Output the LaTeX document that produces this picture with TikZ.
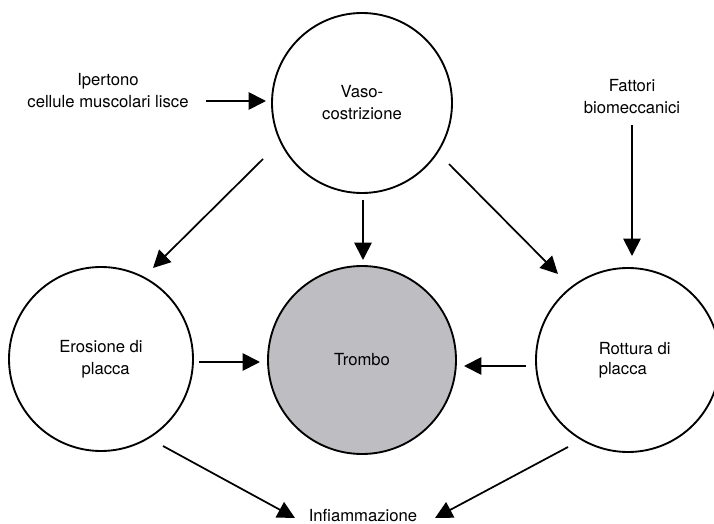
\documentclass[tikz,border=0pt]{standalone}
\usepackage{fontspec}
\setmainfont{TeX Gyre Heros}
\usetikzlibrary{arrows.meta}

\begin{document}
\begin{tikzpicture}[line cap=butt,line join=miter,x=0.75pt,y=-0.75pt,
  bubble/.style={circle,draw=black,line width=1.4pt,minimum size=138pt,inner sep=0pt,align=center},
  lbl/.style={align=center,inner sep=0pt},
  link/.style={line width=1.3pt,-{Triangle[length=13pt,width=13pt]}},
  font=\fontsize{12.5}{16.5}\selectfont]
\definecolor{trombogray}{rgb}{0.74,0.74,0.76}
\useasboundingbox (0,0) rectangle (714,524);
% circles
\node[bubble,minimum size=135pt] (vaso) at (362,103) {Vaso-\\costrizione};
\node[bubble] (erosione) at (101,359) {Erosione di\\\hspace*{7pt}placca};
\node[bubble,fill=trombogray,minimum size=141pt] (trombo) at (362,360) {Trombo};
\node[bubble,label={[lbl,align=left,xshift=5pt,font=\fontsize{12.5}{15}\selectfont]center:Rottura di\\placca}] (rottura) at (628,360) {};
% outside labels
\node[lbl] (ipertono) at (108,91) {Ipertono\\cellule muscolari lisce};
\node[lbl] (fattori) at (632,97) {Fattori\\biomeccanici};
\node[lbl,anchor=base] (infiamm) at (363,521) {Infiammazione};
% arrow ends
\coordinate (ipS) at (206,101);   \coordinate (ipT) at (266,101);
\coordinate (faS) at (632,125);   \coordinate (faT) at (632,256);
\coordinate (veS) at (263,159);   \coordinate (veT) at (153,268);
\coordinate (vtS) at (363,200);   \coordinate (vtT) at (363,260);
\coordinate (vrS) at (449,164);   \coordinate (vrT) at (558,274);
\coordinate (etS) at (199,362);   \coordinate (etT) at (260,362);
\coordinate (rtS) at (526,366);   \coordinate (rtT) at (464,366);
\coordinate (eiS) at (163,446);   \coordinate (eiT) at (295,518);
\coordinate (riS) at (568,447);   \coordinate (riT) at (435,518);
% arrows
\draw[link] (ipS) -- (ipT);
\draw[link] (faS) -- (faT);
\draw[link] (veS) -- (veT);
\draw[link] (vtS) -- (vtT);
\draw[link] (vrS) -- (vrT);
\draw[link] (etS) -- (etT);
\draw[link] (rtS) -- (rtT);
\draw[link] (eiS) -- (eiT);
\draw[link] (riS) -- (riT);
\end{tikzpicture}
\end{document}
